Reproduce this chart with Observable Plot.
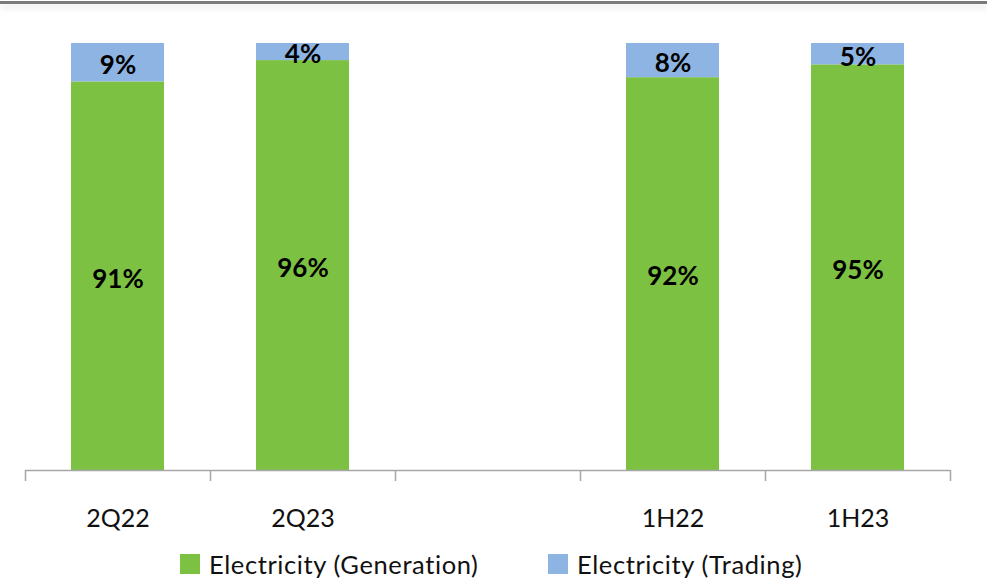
<!DOCTYPE html>
<html>
<head>
<meta charset="utf-8">
<script src="https://cdn.jsdelivr.net/npm/d3@7"></script>
<script src="https://cdn.jsdelivr.net/npm/@observablehq/plot@0.6"></script>
<style>
  html, body { margin: 0; padding: 0; background: #fff; }
  #wrap { position: relative; width: 987px; height: 583px; overflow: hidden; font-family: Lato, "Open Sans", sans-serif; }
  #topline { position: absolute; left: 0; top: 1px; width: 987px; height: 3px; background: #7a7a7a; box-shadow: 0 4px 6px rgba(0,0,0,0.12); }
  #chart { position: absolute; left: 0; top: 0; }
  #legend { position: absolute; top: 549px; left: 0; width: 987px; height: 30px; }
  .item { position: absolute; top: 0; display: flex; align-items: center; font-size: 25.5px; letter-spacing: 0.6px; color: #111; white-space: nowrap; }
  .swatch { width: 20px; height: 20px; margin-right: 9px; }
</style>
</head>
<body>
<div id="wrap">
  <div id="chart"></div>
  <div id="topline"></div>
  <div id="legend"></div>
</div>
<script>
// Periods along the x axis; the blank entry keeps a gap between quarters and halves
const periods = ["2Q22", "2Q23", "", "1H22", "1H23"];
const barPeriods = ["2Q22", "2Q23", "1H22", "1H23"];
const seriesNames = ["Electricity (Generation)", "Electricity (Trading)"];
const generation = [91, 96, 92, 95];
const trading = [9, 4, 8, 5];
const seriesColors = ["#7dc142", "#8db4e2"];

const rows = [];
barPeriods.forEach((p, i) => {
  rows.push({period: p, series: seriesNames[0], value: generation[i]});
  rows.push({period: p, series: seriesNames[1], value: trading[i]});
});

const W = 987, H = 540;
const mLeft = 25, mRight = 37;
const step = (W - mLeft - mRight) / periods.length;

const chart = Plot.plot({
  width: W,
  height: H,
  marginTop: 43,
  marginBottom: 70,
  marginLeft: mLeft,
  marginRight: mRight,
  style: {fontFamily: "Lato, 'Open Sans', sans-serif", background: "#fff", overflow: "visible"},
  x: {domain: periods, paddingInner: 0.5, paddingOuter: 0.25, label: null},
  y: {domain: [0, 100], axis: null},
  color: {domain: seriesNames, range: seriesColors},
  marks: [
    Plot.barY(rows, Plot.stackY({x: "period", y: "value", fill: "series", z: "series", order: seriesNames})),
    Plot.ruleY([0], {stroke: "#a6a6a6", strokeWidth: 1.5}),
    // category boundary ticks below the baseline
    Plot.ruleX(periods, {x: d => d, y1: 0, y2: 0, dx: -step / 2, insetBottom: -11, stroke: "#a6a6a6", strokeWidth: 1.5}),
    Plot.ruleX([periods[periods.length - 1]], {x: d => d, y1: 0, y2: 0, dx: step / 2, insetBottom: -11, stroke: "#a6a6a6", strokeWidth: 1.5}),
    Plot.axisX({tickSize: 0, tickPadding: 39, fontSize: 25, fill: "#111", label: null}),
    Plot.text(rows, Plot.stackY({x: "period", y: "value", z: "series", order: seriesNames,
      text: d => d.value + "%", fontSize: 26, fontWeight: "bold", fill: "#000", dy: 3}))
  ]
});
document.getElementById("chart").appendChild(chart);

// Legend below the plot
const legend = document.getElementById("legend");
const legendX = [180, 548];
seriesNames.forEach((name, i) => {
  const item = document.createElement("div");
  item.className = "item";
  item.style.left = legendX[i] + "px";
  const sw = document.createElement("span");
  sw.className = "swatch";
  sw.style.background = seriesColors[i];
  const label = document.createElement("span");
  label.textContent = name;
  item.appendChild(sw);
  item.appendChild(label);
  legend.appendChild(item);
});
</script>
</body>
</html>
